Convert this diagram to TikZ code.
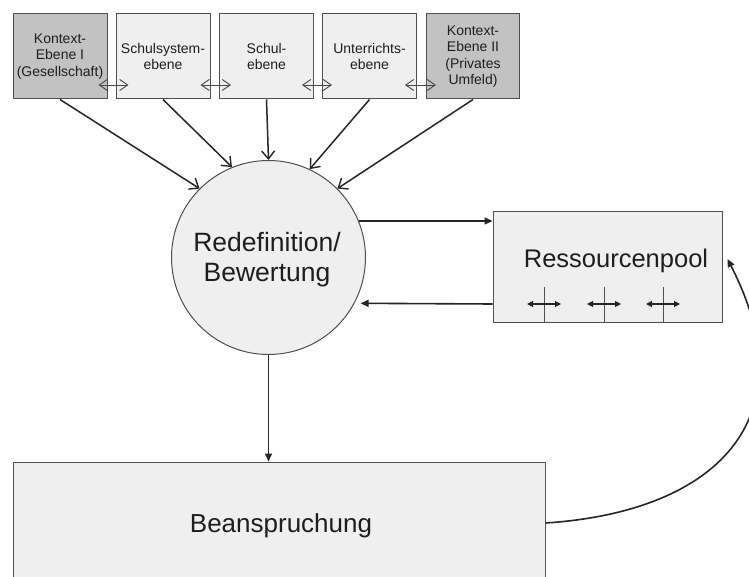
\documentclass[tikz,border=0pt]{standalone}
\usepackage{fontspec}
\setmainfont{Liberation Sans}
\usetikzlibrary{arrows.meta,calc}
\definecolor{bord}{HTML}{505050}
\definecolor{lfill}{HTML}{EFEFEF}
\definecolor{dfill}{HTML}{C2C2C2}
\definecolor{ln}{HTML}{262626}
\definecolor{txt}{HTML}{1E1E1E}
\begin{document}
\begin{tikzpicture}[x=1pt,y=-1pt,
  lvl/.style={rectangle, draw=bord, line width=1pt, fill=lfill, minimum width=94pt, minimum height=85pt,
    inner sep=0pt, align=center, text=txt, font=\fontsize{14}{16.5}\selectfont},
  ctx/.style={fill=dfill},
  bigbox/.style={rectangle, draw=bord, line width=1pt, fill=lfill, inner sep=0pt},
  bigtext/.style={font=\fontsize{26.5}{30}\selectfont, align=center, inner sep=0pt, text=txt},
  conn/.style={draw=ln, line width=1.5pt, -{Straight Barb[length=8pt,width=13pt,line width=1.4pt]}},
  dbl/.style={draw=ln!85, line width=0.9pt, {Straight Barb[length=8pt,width=11pt]}-{Straight Barb[length=8pt,width=11pt]}},
  fconn/.style={draw=ln, line width=1.6pt, -{Triangle[length=8pt,width=7pt]}},
  tick/.style={draw=bord, line width=1pt},
  small/.style={draw=ln, line width=1.1pt, {Triangle[length=6pt,width=6pt]}-{Triangle[length=6pt,width=6pt]}}
]
\useasboundingbox (0,0) rectangle (749,577);

% top level boxes
\node[lvl,ctx] (b1) at (60,56.5) {Kontext-\\Ebene I\\(Gesellschaft)};
\node[lvl] (b2) at (163,56.5) {Schulsystem-\\ebene};
\node[lvl] (b3) at (266.5,56.5) {Schul-\\ebene};
\node[lvl] (b4) at (369.5,56.5) {Unterrichts-\\ebene};
\node[lvl,ctx,minimum width=93pt] (b5) at (473,56.5) {Kontext-\\Ebene II\\(Privates\\Umfeld)};

% double arrows between top boxes
\draw[dbl] ($(b1.east)+(-9,28.5)$) -- ($(b2.west)+(13,28.5)$);
\draw[dbl] ($(b2.east)+(-10,28.5)$) -- ($(b3.west)+(12,28.5)$);
\draw[dbl] ($(b3.east)+(-12,28.5)$) -- ($(b4.west)+(10,28.5)$);
\draw[dbl] ($(b4.east)+(-12,28.5)$) -- ($(b5.west)+(10,28.5)$);

% circle
\node[circle, draw=bord, line width=1pt, fill=lfill, minimum size=194pt, inner sep=0pt] (rb) at (268.5,257.5) {};
\node[bigtext] (rbt) at (267,260) {Redefinition/\\Bewertung};

% Ressourcenpool
\node[bigbox, minimum width=229pt, minimum height=110pt] (rp) at (607.5,267) {};
\node[anchor=base, font=\fontsize{25.5}{30}\selectfont, inner sep=0pt, text=txt] (rpt) at (616,268) {Ressourcenpool};
\foreach \i/\x in {1/544,2/604,3/663}{
  \coordinate (t\i) at (\x,287);
  \draw[tick] (t\i) -- (t\i |- rp.south);
  \draw[small] ($(t\i)+(-17,17)$) -- ($(t\i)+(17,17)$);
}

% Beanspruchung
\node[bigbox, minimum width=532pt, minimum height=130pt] (be) at (279,527) {};
\node[anchor=base, font=\fontsize{26}{30}\selectfont, inner sep=0pt, text=txt] (bet) at (281,532) {Beanspruchung};

% connectors to circle
\draw[conn] (b1.south) -- (rb.135);
\draw[conn] (b2.south) -- (rb.112);
\draw[conn] (b3.south) -- (rb.north);
\draw[conn] (b4.south) -- (rb.65);
\draw[conn] (b5.south) -- (rb.45);

% circle <-> Ressourcenpool
\draw[fconn] (rb.22.7) -- (rb.22.7 -| rp.west);
\draw[fconn, shorten >=6pt] ($(rp.west)+(0,37)$) -- (rb.-28.3);

% circle -> Beanspruchung
\draw[fconn] (rb.south) -- (rb.south |- be.north);

% Beanspruchung -> Ressourcenpool (curved)
\draw[fconn] ($(be.east)+(0,-4)$) .. controls (715,512) and (810,420) .. ($(rp.east)+(5,-8)$);
\end{tikzpicture}
\end{document}
